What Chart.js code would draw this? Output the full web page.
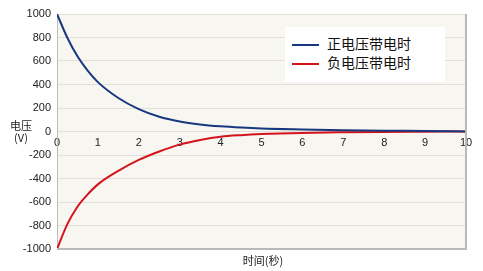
<!DOCTYPE html>
<html>
<head>
<meta charset="utf-8">
<script src="https://cdn.jsdelivr.net/npm/chart.js@4/dist/chart.umd.min.js"></script>
<style>
  html, body { margin: 0; padding: 0; background: #fff; }
  #wrap { position: relative; width: 483px; height: 271px; font-family: "Noto Sans CJK SC", sans-serif; }
  #chart { position: absolute; left: 0; top: 0; }
  .ttl { position: absolute; font-size: 11px; color: #222; line-height: 12px; text-align: center; }
  #legend { position: absolute; left: 285px; top: 27px; width: 160px; height: 55px; background: #fff; }
  .row { position: absolute; left: 7px; height: 18px; font-size: 14px; color: #111; line-height: 18px; }
  .row span.ln { display: inline-block; width: 27px; height: 2px; vertical-align: middle; margin-right: 8px; }
</style>
</head>
<body>
<div id="wrap">
  <canvas id="chart" width="483" height="271"></canvas>
  <div class="ttl" style="left:8px; top:119px; width:26px;">电压<br>(V)</div>
  <div class="ttl" style="left:233px; top:254px; width:60px;">时间(秒)</div>
  <div id="legend">
    <div class="row" style="top:7px;"><span class="ln" style="background:#17387f"></span>正电压带电时</div>
    <div class="row" style="top:26px;"><span class="ln" style="background:#d4141c"></span>负电压带电时</div>
  </div>
</div>
<script>
// time in seconds
const times = [0, 0.25, 0.5, 0.75, 1, 1.5, 2, 2.5, 3, 3.5, 4, 4.5, 5, 6, 7, 8, 9, 10];
// voltage while positively charged
const posVolts = [1000, 800, 640, 518, 420, 285, 190, 125, 85, 60, 44, 33, 25, 17, 11, 7, 4, 0];
// voltage while negatively charged
const negVolts = [-1000, -790, -640, -535, -450, -335, -242, -170, -112, -73, -45, -31, -22, -12, -7, -4, -2, 0];
const xTicks = [0, 1, 2, 3, 4, 5, 6, 7, 8, 9, 10];
const yTicks = [-1000, -800, -600, -400, -200, 0, 200, 400, 600, 800, 1000];

const toPoints = vals => vals.map((v, i) => ({ x: times[i], y: v }));

// plot background + right/bottom frame
const plotFrame = {
  id: "plotFrame",
  beforeDraw(chart) {
    const { ctx, chartArea: a } = chart;
    ctx.save();
    ctx.fillStyle = "#f8f6f1";
    ctx.fillRect(a.left, a.top, a.right - a.left, a.bottom - a.top);
    ctx.restore();
  },
  afterDatasetsDraw(chart) {
    const { ctx, chartArea: a } = chart;
    ctx.save();
    ctx.strokeStyle = "#b9b9b9";
    ctx.lineWidth = 2;
    ctx.beginPath();
    ctx.moveTo(a.right, a.top);
    ctx.lineTo(a.right, a.bottom);
    ctx.lineTo(a.left, a.bottom);
    ctx.stroke();
    ctx.restore();
  }
};

new Chart(document.getElementById("chart"), {
  type: "line",
  data: {
    datasets: [
      { label: "正电压带电时", data: toPoints(posVolts), borderColor: "#17387f", borderWidth: 2, pointRadius: 0, cubicInterpolationMode: "monotone" },
      { label: "负电压带电时", data: toPoints(negVolts), borderColor: "#d4141c", borderWidth: 2, pointRadius: 0, cubicInterpolationMode: "monotone" }
    ]
  },
  options: {
    responsive: false,
    animation: false,
    layout: { padding: { left: 0, top: 14, right: 17, bottom: 22 } },
    plugins: { legend: { display: false }, tooltip: { enabled: false } },
    scales: {
      x: {
        type: "linear",
        position: { y: 0 },
        min: 0, max: 10,
        afterBuildTicks: s => { s.ticks = xTicks.map(v => ({ value: v })); },
        ticks: { color: "#222", font: { family: "Liberation Sans", size: 11 }, padding: 5, maxRotation: 0, callback: v => String(v) },
        grid: { display: false, drawTicks: false },
        border: { display: false }
      },
      y: {
        min: -1000, max: 1000,
        afterBuildTicks: s => { s.ticks = yTicks.map(v => ({ value: v })); },
        afterFit: s => { s.width = 57; },
        ticks: { color: "#222", font: { family: "Liberation Sans", size: 11 }, padding: 6, callback: v => String(v) },
        grid: { color: "#e3e0d9", drawTicks: false },
        border: { color: "#bdbdbd", width: 1 }
      }
    }
  },
  plugins: [plotFrame]
});
</script>
</body>
</html>
